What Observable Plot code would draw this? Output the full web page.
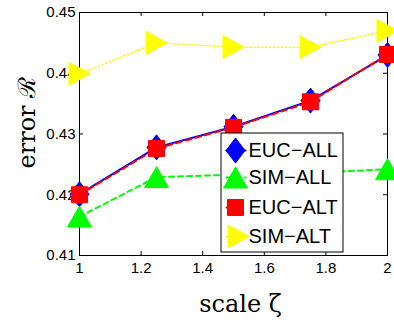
<!DOCTYPE html>
<html><head><meta charset="utf-8">
<script src="https://cdn.jsdelivr.net/npm/d3@7"></script>
<script src="https://cdn.jsdelivr.net/npm/@observablehq/plot@0.6"></script>
<style>body{margin:0;background:#fff}</style>
</head><body><div id="chart"></div>
<script>
// ---- data ----
const scales = [1, 1.25, 1.5, 1.75, 2];
const eucAll = [0.4201, 0.4278, 0.4312, 0.4355, 0.4430];
const simAll = [0.4164, 0.4229, 0.4233, 0.4236, 0.4242];
const eucAlt = [0.4200, 0.4276, 0.4311, 0.4353, 0.4431];
const simAlt = [0.4399, 0.4450, 0.4443, 0.4443, 0.4470];
const seriesNames = ["EUC\u2212ALL", "SIM\u2212ALL", "EUC\u2212ALT", "SIM\u2212ALT"];
const xTicks = [1, 1.2, 1.4, 1.6, 1.8, 2];
const xTickLabels = ["1", "1.2", "1.4", "1.6", "1.8", "2"];
const yTicks = [0.41, 0.42, 0.43, 0.44, 0.45];
const yTickLabels = ["0.41", "0.42", "0.43", "0.44", "0.45"];
const xLabel = "scale \u03B6";
const yLabel = "error \u211B";

// ---- layout ----
const W = 394, H = 324, mL = 79, mR = 7, mT = 12, mB = 69;
const pw = W - mL - mR, ph = H - mT - mB;
const xDom = [1, 2], yDom = [0.41, 0.45];
const fx = px => xDom[0] + (px - mL) / pw * (xDom[1] - xDom[0]);
const fy = py => yDom[1] - (py - mT) / ph * (yDom[1] - yDom[0]);

// ---- symbols ----
const diamond = {draw(c) {c.moveTo(0, -12.5); c.lineTo(9.5, 0); c.lineTo(0, 12.5); c.lineTo(-9.5, 0); c.closePath();}};
const triUp = {draw(c) {c.moveTo(0, -10.5); c.lineTo(12, 10.5); c.lineTo(-12, 10.5); c.closePath();}};
const square = {draw(c) {c.moveTo(-8, -8); c.lineTo(8, -8); c.lineTo(8, 8); c.lineTo(-8, 8); c.closePath();}};
const triRight = {draw(c) {c.moveTo(10.5, 0); c.lineTo(-10.5, -11.5); c.lineTo(-10.5, 11.5); c.closePath();}};

const series = [
  {values: eucAll, color: "#0000ff", dash: null, width: 2, symbol: diamond},
  {values: simAll, color: "#00ff00", dash: "5,4", width: 2, symbol: triUp},
  {values: eucAlt, color: "#ff0000", dash: "6,4", width: 2, symbol: square},
  {values: simAlt, color: "#ffff00", dash: "1.5,2.5", width: 1.5, symbol: triRight}
];

const marks = [];
marks.push(Plot.frame({stroke: "black", strokeWidth: 1}));
// inward ticks on all sides
marks.push(Plot.ruleX(xTicks, {x: d => d, insetTop: ph - 4, stroke: "black"}));
marks.push(Plot.ruleX(xTicks, {x: d => d, insetBottom: ph - 4, stroke: "black"}));
marks.push(Plot.ruleY(yTicks, {y: d => d, insetRight: pw - 4, stroke: "black"}));
marks.push(Plot.ruleY(yTicks, {y: d => d, insetLeft: pw - 4, stroke: "black"}));
marks.push(Plot.axisX(xTicks, {tickSize: 0, tickPadding: 7, tickFormat: d => xTickLabels[xTicks.indexOf(d)], label: null}));
marks.push(Plot.axisY(yTicks, {tickSize: 0, tickPadding: 4, tickFormat: d => yTickLabels[yTicks.indexOf(d)], label: null}));

series.forEach(s => {
  const rows = scales.map((x, i) => ({x, y: s.values[i]}));
  marks.push(Plot.line(rows, {x: "x", y: "y", stroke: s.color, strokeWidth: s.width, strokeDasharray: s.dash}));
  marks.push(Plot.dot(rows, {x: "x", y: "y", symbol: s.symbol, fill: s.color, stroke: s.color, strokeWidth: 1}));
});

// legend
marks.push(Plot.rect([0], {x1: fx(221), x2: fx(343), y1: fy(252), y2: fy(133), fill: "white", stroke: "black", strokeWidth: 1}));
const legY = [150, 177, 207, 236];
const legMX = [235, 235, 235, 238];
series.forEach((s, i) => {
  marks.push(Plot.line([[fx(226), fy(legY[i])], [fx(245), fy(legY[i])]], {stroke: s.color, strokeWidth: s.width, strokeDasharray: s.dash}));
  marks.push(Plot.dot([0], {x: fx(legMX[i]), y: fy(legY[i]), symbol: s.symbol, fill: s.color, stroke: s.color, strokeWidth: 1}));
  marks.push(Plot.text([seriesNames[i]], {x: fx(248), y: fy(legY[i]), text: d => d, textAnchor: "start", lineAnchor: "middle", fontSize: 20, fill: "black"}));
});

// axis titles
marks.push(Plot.text([xLabel], {x: fx(240), y: fy(304), text: d => d, textAnchor: "middle", lineAnchor: "middle", fontSize: 24, fontFamily: "DejaVu Serif", fill: "black"}));
marks.push(Plot.text([yLabel], {x: fx(27), y: fy(168), rotate: -90, text: d => d, textAnchor: "start", lineAnchor: "middle", fontSize: 24, fontFamily: "DejaVu Serif", fill: "black"}));

const chart = Plot.plot({
  width: W, height: H,
  marginLeft: mL, marginRight: mR, marginTop: mT, marginBottom: mB,
  x: {domain: xDom, label: null},
  y: {domain: yDom, label: null},
  style: {fontSize: "15px", fontFamily: "'Liberation Sans', Arial, sans-serif", color: "black", background: "white", overflow: "visible"},
  marks
});
document.getElementById("chart").appendChild(chart);
</script>
</body></html>
